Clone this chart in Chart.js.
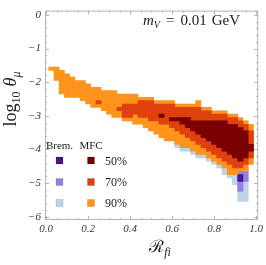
<!DOCTYPE html>
<html>
<head>
<meta charset="utf-8">
<script src="https://cdn.jsdelivr.net/npm/chart.js@4.4.1/dist/chart.umd.min.js"></script>
<style>
  html, body { margin: 0; padding: 0; background: #fff; }
  #wrap { width: 266px; height: 265px; }
</style>
</head>
<body>
<div id="wrap"><canvas id="myChart" width="266" height="265"></canvas></div>
<script>
// tick labels
const xTicks = [0, 0.2, 0.4, 0.6, 0.8, 1.0];
const yTicks = [-6, -5, -4, -3, -2, -1, 0];

// each cell column: [R_fi centre, lower log10 theta, upper log10 theta]
const mfc90 = [
  [0.025, -1.65, -1.55], [0.05, -1.95, -1.55], [0.075, -2.35, -1.65], [0.1, -2.45, -1.75],
  [0.125, -2.45, -1.85], [0.15, -2.45, -1.95], [0.175, -2.55, -1.95], [0.2, -2.65, -2.05],
  [0.225, -2.75, -2.15], [0.25, -2.75, -2.15], [0.275, -2.85, -2.25], [0.3, -2.95, -2.25],
  [0.325, -3.05, -2.25], [0.35, -3.05, -2.35], [0.375, -3.15, -2.35], [0.4, -3.15, -2.35],
  [0.425, -3.25, -2.35], [0.45, -3.25, -2.45], [0.475, -3.35, -2.45], [0.5, -3.45, -2.45],
  [0.525, -3.55, -2.55], [0.55, -3.65, -2.55], [0.575, -3.75, -2.55], [0.6, -3.75, -2.55],
  [0.625, -3.85, -2.65], [0.65, -3.95, -2.65], [0.675, -3.95, -2.65], [0.7, -4.05, -2.65],
  [0.725, -4.15, -2.55], [0.75, -4.15, -2.75], [0.775, -4.25, -2.75], [0.8, -4.35, -2.85],
  [0.825, -4.45, -2.85], [0.85, -4.55, -2.85], [0.875, -4.75, -2.95], [0.9, -4.75, -2.95],
  [0.925, -4.65, -3.05], [0.95, -4.65, -3.15], [0.975, -4.45, -3.25]
];
const mfc70 = [
  [0.25, -2.65, -2.55],
  [0.35, -2.85, -2.75], [0.375, -3.05, -2.65], [0.4, -3.05, -2.65], [0.425, -2.95, -2.65],
  [0.45, -3.05, -2.55], [0.475, -3.05, -2.55], [0.5, -3.15, -2.55], [0.525, -3.15, -2.65],
  [0.55, -3.25, -2.65], [0.575, -3.25, -2.65], [0.6, -3.35, -2.65], [0.625, -3.45, -2.75],
  [0.65, -3.55, -2.75], [0.675, -3.65, -2.75], [0.7, -3.75, -2.75], [0.725, -3.85, -2.75],
  [0.75, -3.95, -2.85], [0.775, -4.05, -2.85], [0.8, -4.15, -2.95], [0.825, -4.25, -2.95],
  [0.85, -4.35, -2.95], [0.875, -4.45, -3.05], [0.9, -4.55, -3.05], [0.925, -4.55, -3.15],
  [0.95, -4.45, -3.25], [0.975, -4.25, -3.45]
];
const mfc50 = [
  [0.55, -3.05, -2.95],
  [0.6, -3.15, -3.05], [0.625, -3.15, -3.05], [0.65, -3.25, -3.05], [0.675, -3.35, -3.05],
  [0.7, -3.45, -3.15], [0.725, -3.55, -3.15], [0.75, -3.65, -3.15], [0.775, -3.75, -3.15],
  [0.8, -3.85, -3.15], [0.825, -3.95, -3.15], [0.85, -4.05, -3.15], [0.875, -4.15, -3.25],
  [0.9, -4.25, -3.25], [0.925, -4.35, -3.35], [0.95, -4.25, -3.45], [0.975, -4.05, -3.85]
];
const brem90 = [
  [0.625, -3.95, -3.75], [0.65, -4.05, -3.85], [0.675, -4.05, -3.85], [0.7, -4.15, -3.95],
  [0.725, -4.25, -4.05], [0.75, -4.25, -4.05], [0.775, -4.35, -4.15], [0.8, -4.45, -4.25],
  [0.825, -4.55, -4.35], [0.85, -4.75, -4.45], [0.875, -4.85, -4.65], [0.9, -5.05, -4.65],
  [0.925, -5.55, -4.55], [0.95, -5.55, -4.55]
];
const brem70 = [[0.925, -5.25, -4.65], [0.95, -4.95, -4.65]];
const brem50 = [[0.925, -4.95, -4.75]];

const legendLabels = ['50%', '70%', '90%'];
const mfcColors = ['#7a0002', '#e0400e', '#ff941c'];
const bremColors = ['#4c148c', '#9381e8', '#bdd3e8'];

function toBars(cells) {
  return cells.map(c => ({x: c[0], y: [c[1], c[2]]}));
}

const serif = "'Liberation Serif', 'DejaVu Serif', serif";

// draw a row of text pieces (for sub/superscripts)
function drawPieces(ctx, pieces, x, y, align) {
  let total = 0;
  pieces.forEach(p => { ctx.font = p.font; p.w = ctx.measureText(p.t).width; total += p.w + (p.gap || 0); });
  let cx = align === 'center' ? x - total / 2 : x;
  pieces.forEach(p => {
    ctx.font = p.font;
    ctx.fillText(p.t, cx, y + (p.dy || 0));
    cx += p.w + (p.gap || 0);
  });
}

const decorations = {
  id: 'decorations',
  afterDraw(chart) {
    const {ctx, chartArea: a, scales: {x, y}} = chart;
    ctx.save();
    // frame with inward ticks
    ctx.strokeStyle = '#b5b5b5';
    ctx.lineWidth = 1;
    ctx.strokeRect(a.left + 0.5, a.top + 0.5, a.right - a.left - 1, a.bottom - a.top - 1);
    ctx.beginPath();
    for (let i = 0; i <= 20; i++) {
      const px = Math.round(x.getPixelForValue(i * 0.05)) + 0.5;
      const len = i % 4 === 0 ? 4 : 2;
      ctx.moveTo(px, a.bottom); ctx.lineTo(px, a.bottom - len);
      ctx.moveTo(px, a.top); ctx.lineTo(px, a.top + len);
    }
    for (let i = 0; i <= 30; i++) {
      const py = Math.round(y.getPixelForValue(-i * 0.2)) + 0.5;
      const len = i % 5 === 0 ? 4 : 2;
      ctx.moveTo(a.left, py); ctx.lineTo(a.left + len, py);
      ctx.moveTo(a.right, py); ctx.lineTo(a.right - len, py);
    }
    ctx.stroke();

    ctx.fillStyle = '#222';
    ctx.textBaseline = 'alphabetic';
    ctx.textAlign = 'left';

    // y axis title
    ctx.save();
    ctx.translate(16, 99);
    ctx.rotate(-Math.PI / 2);
    drawPieces(ctx, [
      {t: 'log', font: '18px ' + serif},
      {t: '10', font: '12px ' + serif, dy: 4, gap: 5},
      {t: 'θ', font: 'italic 18px ' + serif},
      {t: 'μ', font: 'italic 12px ' + serif, dy: 4}
    ], 0, 0, 'center');
    ctx.restore();

    // x axis title
    drawPieces(ctx, [
      {t: 'ℛ', font: '17px ' + serif},
      {t: 'fi', font: 'italic 12px ' + serif, dy: 4}
    ], 160, 252, 'center');

    // mass label
    drawPieces(ctx, [
      {t: 'm', font: 'italic 15px ' + serif},
      {t: 'V', font: 'italic 10px ' + serif, dy: 3, gap: 6},
      {t: '=', font: '15px ' + serif, gap: 6},
      {t: '0.01', font: '15px ' + serif, gap: 5},
      {t: 'GeV', font: '15px ' + serif}
    ], 143, 25, 'left');

    // legend
    ctx.textAlign = 'center';
    ctx.font = '11px ' + serif;
    ctx.fillText('Brem.', 59.5, 149);
    ctx.fillText('MFC', 91, 149);
    ctx.textAlign = 'left';
    ctx.font = '12px ' + serif;
    const rowTop = [157, 178.5, 199.5];
    legendLabels.forEach((lab, i) => {
      ctx.fillStyle = bremColors[i];
      ctx.fillRect(56, rowTop[i], 7, 7);
      ctx.fillStyle = mfcColors[i];
      ctx.fillRect(87.5, rowTop[i], 7, 7);
      ctx.strokeStyle = 'rgba(0,0,0,0.2)';
      ctx.lineWidth = 0.6;
      ctx.strokeRect(56, rowTop[i], 7, 7);
      ctx.strokeRect(87.5, rowTop[i], 7, 7);
      ctx.fillStyle = '#222';
      ctx.fillText(lab, 105, rowTop[i] + 7.5);
    });
    ctx.restore();
  }
};

const tickFont = {family: serif, style: 'italic', size: 11};

new Chart(document.getElementById('myChart'), {
  type: 'bar',
  data: {
    datasets: [
      {label: 'MFC 50%', data: toBars(mfc50), backgroundColor: mfcColors[0]},
      {label: 'MFC 70%', data: toBars(mfc70), backgroundColor: mfcColors[1]},
      {label: 'MFC 90%', data: toBars(mfc90), backgroundColor: mfcColors[2]},
      {label: 'Brem 50%', data: toBars(brem50), backgroundColor: bremColors[0]},
      {label: 'Brem 70%', data: toBars(brem70), backgroundColor: bremColors[1]},
      {label: 'Brem 90%', data: toBars(brem90), backgroundColor: bremColors[2]}
    ]
  },
  options: {
    responsive: false,
    animation: false,
    devicePixelRatio: 1,
    layout: {padding: {top: 3, right: 4, left: 0, bottom: 0}},
    datasets: {
      bar: {grouped: false, barPercentage: 1, categoryPercentage: 1, borderWidth: 0}
    },
    plugins: {legend: {display: false}, tooltip: {enabled: false}},
    scales: {
      x: {
        type: 'linear', min: -0.005, max: 1.01, offset: false,
        grid: {display: false, drawTicks: false}, border: {display: false},
        afterBuildTicks: s => { s.ticks = xTicks.map(v => ({value: v})); },
        afterFit: s => { s.height = 45; },
        ticks: {padding: 3, font: tickFont, color: '#333', maxRotation: 0, autoSkip: false,
          callback: v => Number(v).toFixed(1)}
      },
      y: {
        min: -6.1, max: 0.13,
        grid: {display: false, drawTicks: false}, border: {display: false},
        afterBuildTicks: s => { s.ticks = yTicks.map(v => ({value: v})); },
        afterFit: s => { s.width = 45; },
        ticks: {padding: 4, font: tickFont, color: '#333', autoSkip: false,
          callback: v => v === 0 ? '0' : '\u2212' + Math.abs(v)}
      }
    }
  },
  plugins: [decorations]
});
</script>
</body>
</html>
